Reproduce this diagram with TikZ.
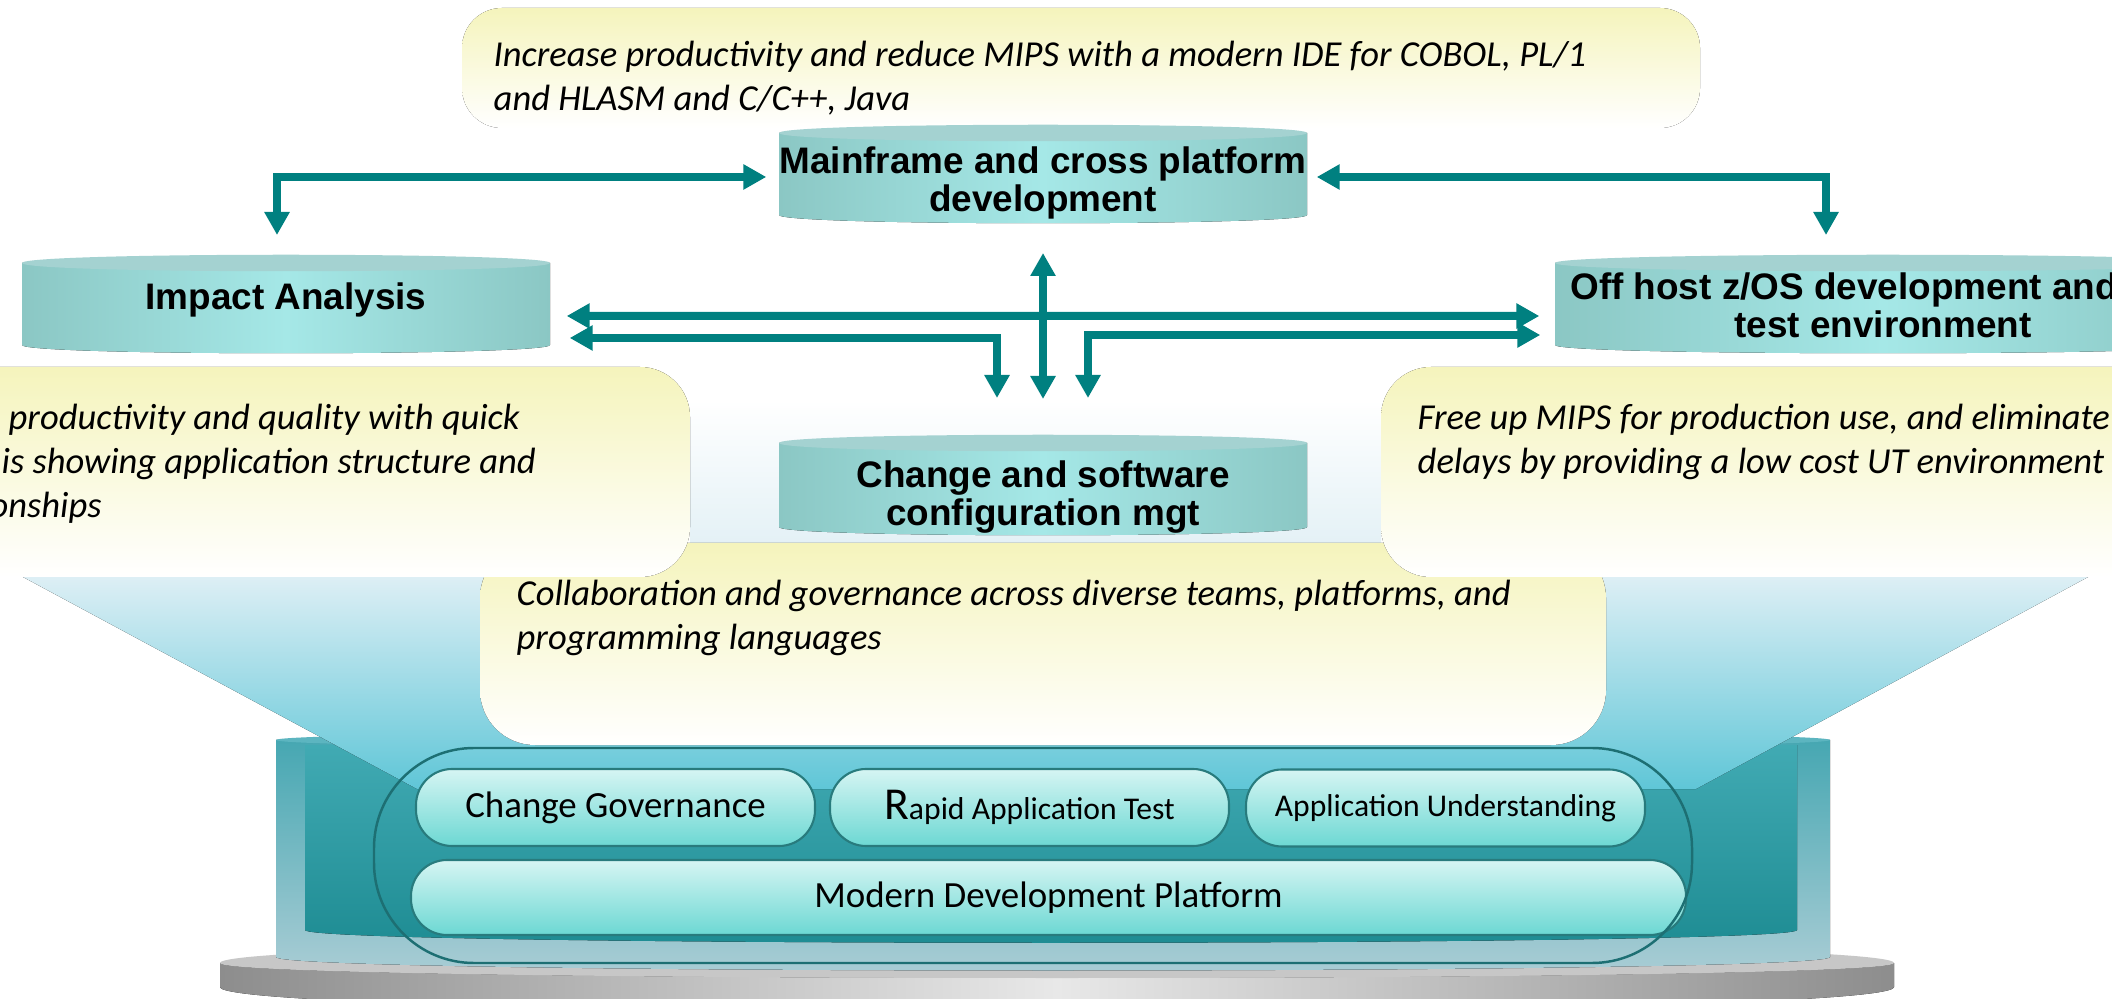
\documentclass[tikz,border=0pt]{standalone}
\usepackage{fontspec}
\setmainfont{Carlito}
\newfontfamily\headfont{Liberation Sans}
\usetikzlibrary{arrows.meta}

\definecolor{noteyellow}{HTML}{F5F4BC}
\definecolor{drumside}{HTML}{8BC7C4}
\definecolor{drummid}{HTML}{A5E8E7}
\definecolor{drumtop}{HTML}{A4D2D1}
\definecolor{linkteal}{HTML}{008080}
\definecolor{beamtop}{HTML}{DDEFF5}
\definecolor{beambot}{HTML}{5FC6D7}
\definecolor{hazebot}{HTML}{E4F1F6}
\definecolor{baseup}{HTML}{46A7B2}
\definecolor{baselow}{HTML}{AACDD5}
\definecolor{panelup}{HTML}{41AAB3}
\definecolor{panellow}{HTML}{1E8C93}
\definecolor{capteal}{HTML}{5CB5C0}
\definecolor{plateface}{HTML}{C7C7C7}
\definecolor{plateedge}{HTML}{8D8D8D}
\definecolor{platemid}{HTML}{E8E8E8}
\definecolor{pillline}{HTML}{287B7D}
\definecolor{pilltop}{HTML}{D6F5F3}
\definecolor{pillbot}{HTML}{6CD8D3}
\definecolor{ringline}{HTML}{1D6F73}

\tikzset{
  link/.style={draw=linkteal, line width=0.8mm, >={Triangle[width=2.4mm,length=2.3mm]}, <->},
  drumbody/.style={left color=drumside, right color=drumside, middle color=drummid},
  drumcap/.style={fill=drumtop},
  drumlabel/.style={font=\headfont\bfseries\fontsize{10.5}{10.8}\selectfont, align=center, inner sep=0pt},
  note/.style={top color=noteyellow, bottom color=white, rounded corners=5mm},
  notetext/.style={font=\itshape\fontsize{10.4}{12.6}\selectfont, align=left, inner sep=0pt, anchor=north west},
  pill/.style={draw=pillline, line width=0.6pt, top color=pilltop, bottom color=pillbot,
    rounded corners=3.6mm, inner sep=0pt, font=\fontsize{10.5}{12}\selectfont},
  ring/.style={draw=ringline, line width=0.7pt, rounded corners=10mm},
}

% cylindre : nom, x gauche, x droite, haut, bas, decalage du texte, texte
\newcommand{\drumbox}[7]{%
  \fill[drumbody] (#2,#4+8) -- (#2,#5) .. controls (#2,#5+11) and (#3,#5+11) .. (#3,#5) -- (#3,#4+8) -- cycle;
  \fill[drumcap] (#2,#4+8) .. controls (#2,#4-3) and (#3,#4-3) .. (#3,#4+8)
    .. controls (#3,#4+19) and (#2,#4+19) .. (#2,#4+8) -- cycle;
  \node[drumlabel, minimum width={(#3-#2)*0.1mm}] (#1) at ({(#2+#3)/2},{(#4+#5+8)/2+(#6)}) {#7};
}

\begin{document}
\begin{tikzpicture}[x=0.1mm, y=-0.1mm]
  \useasboundingbox (0,0) rectangle (2112,999);
  \clip (0,0) rectangle (2112,999);
  \fill[white] (0,0) rectangle (2112,999);

  % La bulle du haut
  \fill[note, rounded corners=4mm] (462,8) rectangle (1700,128);
  \node[notetext] (topnote) at (493,40)
    {Increase productivity and reduce MIPS with a modern IDE for COBOL, PL/1\\and HLASM and C/C++, Java};

  % Le voile entre les bulles
  \fill[top color=white, bottom color=hazebot] (690,400) rectangle (1381,543);

  % Le plateau
  \fill[left color=plateedge, right color=plateedge, middle color=platemid]
    (220,963) .. controls (220,983) and (1894,983) .. (1894,963) -- (1894,987)
    .. controls (1894,1020) and (220,1020) .. (220,987) -- cycle;
  \fill[plateface] (220,963) .. controls (220,935) and (1894,935) .. (1894,963)
    .. controls (1894,983) and (220,983) .. (220,963) -- cycle;

  % Le socle
  \fill[top color=baseup, bottom color=baselow]
    (276,740) -- (276,957) .. controls (276,975) and (1830,975) .. (1830,957) -- (1830,740) -- cycle;
  \fill[capteal] (276,740) .. controls (276,728) and (1830,728) .. (1830,740)
    .. controls (1830,752) and (276,752) .. (276,740) -- cycle;
  \fill[top color=panelup, bottom color=panellow]
    (305,745) -- (305,930) .. controls (305,947) and (1797,947) .. (1797,930) -- (1797,745) -- cycle;

  % Le faisceau
  \fill[top color=beamtop, bottom color=beambot] (23,577) -- (2088,577) -- (1696,789) -- (417,789) -- cycle;

  % Les bulles
  \fill[note, rounded corners=5.5mm] (480,543) rectangle (1606,745);
  \node[notetext] (collabnote) at (516,579)
    {Collaboration and governance across diverse teams, platforms, and\\programming languages};
  \fill[note] (-100,367) rectangle (690,577);
  \node[notetext] (impactnote) at (1,403)
    {\hspace*{0.7mm}productivity and quality with quick\\is showing application structure and\\\hspace*{-1.2mm}onships};
  \fill[note] (1381,367) rectangle (2250,577);
  \node[notetext] (offnote) at (1417,403)
    {Free up MIPS for production use, and eliminate\\delays by providing a low cost UT environment};

  % Les boutons
  \node[pill, minimum width=39.9mm, minimum height=7.7mm] (govern) at (615.5,807.5) {Change Governance};
  \node[pill, minimum width=39.9mm, minimum height=7.7mm, font=\fontsize{9}{11}\selectfont] (rapid) at (1029.5,807.5)
    {{\fontsize{13}{13}\selectfont R}apid Application Test};
  \node[pill, minimum width=39.9mm, minimum height=7.7mm, font=\fontsize{9}{11}\selectfont] (underst) at (1445.5,808)
    {Application Understanding};
  \node[pill, minimum width=127.5mm, minimum height=7.5mm] (platform) at (1048.5,897.5) {Modern Development Platform};
  \draw[ring] (374,748) rectangle (1692,963);

  % Les cylindres
  \drumbox{main}{779}{1307}{125}{215}{8.5}{Mainframe and cross platform\\development}
  \drumbox{impact}{22}{550}{255}{345}{-4}{Impact Analysis}
  \drumbox{offhost}{1555}{2211}{255}{345}{1}{Off host z/OS development and\hphantom{ unit}\\test environment}
  \drumbox{change}{779}{1307}{435}{527}{12}{Change and software\\configuration mgt}

  % Les fleches
  \draw[link] ([xshift=-1.2mm,yshift=0.55mm]main.west) -| ([xshift=-0.9mm,yshift=6.5mm]impact.center);
  \draw[link] ([xshift=0.9mm,yshift=0.55mm]main.east) -| ([xshift=-5.7mm,yshift=7mm]offhost.center);
  \draw[link] ([xshift=1.6mm,yshift=-1.6mm]impact.east) -- ([xshift=-1.5mm,yshift=-1.1mm]offhost.west);
  \draw[link] ([xshift=1.9mm,yshift=-3.8mm]impact.east) -| ([xshift=-4.6mm,yshift=9.9mm]change.center);
  \draw[link] ([xshift=-1.4mm,yshift=-3mm]offhost.west) -| ([xshift=4.5mm,yshift=9.9mm]change.center);
  \draw[link] ([yshift=-7.05mm]main.center) -- ([yshift=9.8mm]change.center);
\end{tikzpicture}
\end{document}
